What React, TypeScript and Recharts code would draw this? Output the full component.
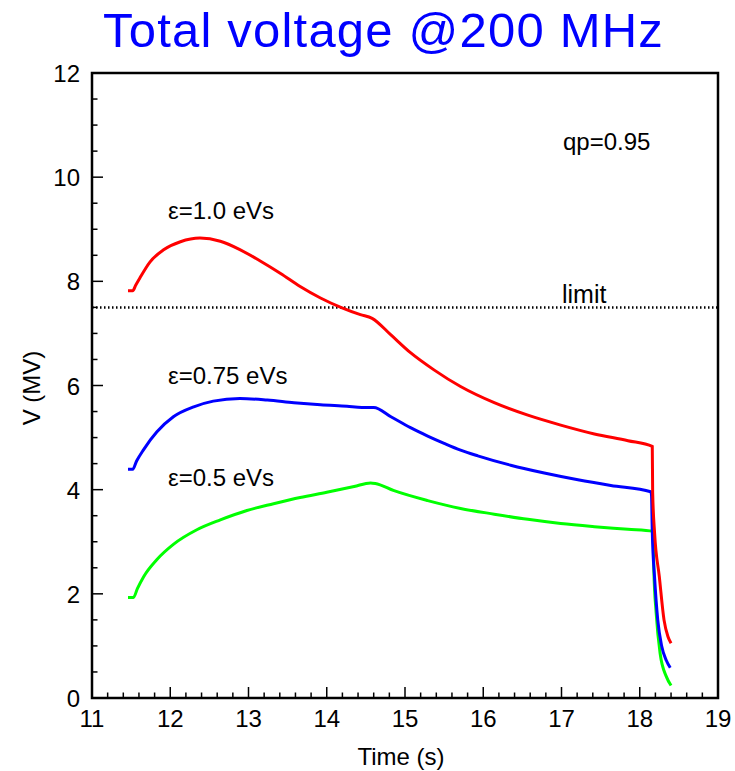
import { LineChart, Line, XAxis, YAxis, ReferenceLine, ReferenceArea } from "recharts"

// values: time (s) and total voltage (MV)
const redTime = [11.46, 11.52, 11.56, 11.61, 11.74, 11.91, 12.13, 12.38, 12.64, 12.89, 13.15, 13.41, 13.66, 13.92, 14.18, 14.43, 14.58, 14.82, 15.07, 15.37, 15.71, 16.14, 16.57, 16.99, 17.42, 17.85, 18.16, 18.165, 18.19, 18.25, 18.31, 18.36, 18.4]
const redVolt = [7.82, 7.82, 7.93, 8.06, 8.37, 8.6, 8.76, 8.83, 8.77, 8.61, 8.39, 8.15, 7.9, 7.68, 7.5, 7.36, 7.29, 6.97, 6.63, 6.3, 5.98, 5.67, 5.43, 5.24, 5.07, 4.94, 4.83, 3.95, 3.16, 2.33, 1.5, 1.18, 1.05]

const blueTime = [11.46, 11.52, 11.57, 11.66, 11.83, 12.04, 12.3, 12.55, 12.89, 13.24, 13.58, 13.92, 14.26, 14.45, 14.6, 14.82, 15.07, 15.29, 15.5, 15.71, 15.93, 16.35, 16.78, 17.21, 17.63, 18.14, 18.15, 18.16, 18.19, 18.23, 18.28, 18.34, 18.39]
const blueVolt = [4.39, 4.39, 4.55, 4.77, 5.11, 5.4, 5.59, 5.7, 5.75, 5.72, 5.67, 5.63, 5.6, 5.58, 5.58, 5.4, 5.19, 5.03, 4.89, 4.76, 4.65, 4.47, 4.32, 4.19, 4.08, 3.96, 3.9, 3.2, 2.3, 1.5, 1.0, 0.72, 0.58]

const greenTime = [11.46, 11.53, 11.58, 11.66, 11.83, 12.04, 12.34, 12.64, 12.98, 13.32, 13.66, 14.0, 14.35, 14.56, 14.62, 14.86, 15.29, 15.71, 16.14, 16.57, 16.99, 17.42, 17.85, 18.17, 18.18, 18.21, 18.26, 18.34, 18.4]
const greenVolt = [1.93, 1.93, 2.1, 2.33, 2.66, 2.95, 3.23, 3.42, 3.6, 3.73, 3.85, 3.95, 4.06, 4.13, 4.12, 3.98, 3.79, 3.64, 3.53, 3.43, 3.35, 3.29, 3.24, 3.2, 2.46, 1.63, 0.86, 0.41, 0.24]

const limitVolt = 7.5

const xMajor = [11, 12, 13, 14, 15, 16, 17, 18, 19]
const yMajor = [0, 2, 4, 6, 8, 10, 12]

const FONT = "'Liberation Sans', Arial, Helvetica, sans-serif"

function toPoints(ts: number[], vs: number[]) {
  return ts.map((t, i) => ({ t, v: vs[i] }))
}

// minor ticks between majors (ROOT style: 5 divisions on x, 4 on y)
function withMinor(major: number[], div: number) {
  const out: number[] = []
  for (let i = 0; i < major.length - 1; i++) {
    const step = (major[i + 1] - major[i]) / div
    for (let k = 0; k < div; k++) out.push(Math.round((major[i] + k * step) * 100) / 100)
  }
  out.push(major[major.length - 1])
  return out
}

const xTicks = withMinor(xMajor, 5)
const yTicks = withMinor(yMajor, 4)

function XTick({ x, y, payload }: any) {
  const major = xMajor.includes(payload.value)
  return (
    <g>
      <line x1={x} x2={x} y1={y} y2={y - (major ? 11 : 5.5)} stroke="#000" strokeWidth={1.5} />
      {major && (
        <text x={x} y={y + 29} textAnchor="middle" fontSize={24} fontFamily={FONT} fill="#000">
          {payload.value}
        </text>
      )}
    </g>
  )
}

function YTick({ x, y, payload }: any) {
  const major = yMajor.includes(payload.value)
  return (
    <g>
      <line x1={x} x2={x + (major ? 11 : 5.5)} y1={y} y2={y} stroke="#000" strokeWidth={1.5} />
      {major && (
        <text x={x - 12} y={y + 9} textAnchor="end" fontSize={24} fontFamily={FONT} fill="#000">
          {payload.value}
        </text>
      )}
    </g>
  )
}

export default function App() {
  return (
    <div style={{ position: "absolute", left: 0, top: 0, width: 735, height: 771, background: "white" }}>
      <LineChart width={735} height={771} margin={{ top: 73, right: 17, left: 0, bottom: 0 }}>
        <XAxis
          dataKey="t"
          type="number"
          domain={[11, 19]}
          ticks={xTicks}
          interval={0}
          height={73}
          axisLine={false}
          tickLine={false}
          tickSize={0}
          tickMargin={0}
          tick={<XTick />}
          allowDataOverflow
        />
        <YAxis
          dataKey="v"
          type="number"
          domain={[0, 12]}
          ticks={yTicks}
          interval={0}
          width={92}
          axisLine={false}
          tickLine={false}
          tickSize={0}
          tickMargin={0}
          tick={<YTick />}
          allowDataOverflow
        />
        <ReferenceLine y={limitVolt} stroke="#000" strokeWidth={2.5} strokeDasharray="1.5 2.5" />
        <Line data={toPoints(greenTime, greenVolt)} dataKey="v" type="monotone" stroke="#00ff00" strokeWidth={3} dot={false} isAnimationActive={false} />
        <Line data={toPoints(blueTime, blueVolt)} dataKey="v" type="monotone" stroke="#0000ff" strokeWidth={3} dot={false} isAnimationActive={false} />
        <Line data={toPoints(redTime, redVolt)} dataKey="v" type="monotone" stroke="#ff0000" strokeWidth={3} dot={false} isAnimationActive={false} />
        <ReferenceArea x1={11} x2={19} y1={0} y2={12} fill="none" stroke="#000" strokeWidth={2.5} ifOverflow="visible" />
      </LineChart>
      <svg width={735} height={771} style={{ position: "absolute", left: 0, top: 0, pointerEvents: "none" }} fontFamily={FONT}>
        <text x={383.5} y={47} textAnchor="middle" fontSize={49} letterSpacing={1.2} fill="#0000ff">
          Total voltage @200 MHz
        </text>
        <text x={563} y={150} fontSize={24} fill="#000">qp=0.95</text>
        <text x={168} y={219} fontSize={24} fill="#000">ε=1.0 eVs</text>
        <text x={168} y={384} fontSize={24} fill="#000">ε=0.75 eVs</text>
        <text x={168} y={486} fontSize={24} fill="#000">ε=0.5 eVs</text>
        <text x={562} y={303} fontSize={25} fill="#000">limit</text>
        <text x={401} y={765} textAnchor="middle" fontSize={24} fill="#000">Time (s)</text>
        <text transform="translate(40, 388) rotate(-90)" textAnchor="middle" fontSize={24} fill="#000">V (MV)</text>
      </svg>
    </div>
  )
}
